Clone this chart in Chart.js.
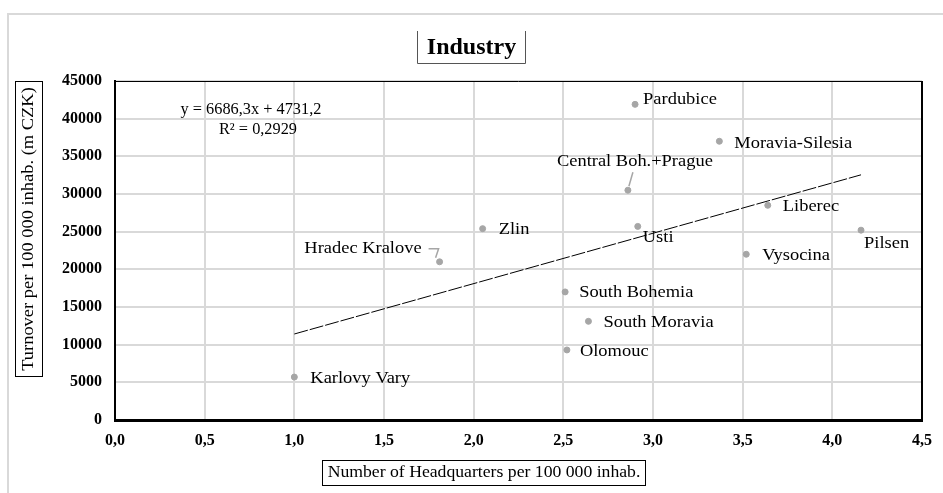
<!DOCTYPE html>
<html>
<head>
<meta charset="utf-8">
<script src="https://cdn.jsdelivr.net/npm/chart.js@4.4.0/dist/chart.umd.min.js"></script>
<style>
  html, body { margin: 0; padding: 0; background: #fff; }
  #wrap { width: 943px; height: 493px; position: relative; }
</style>
</head>
<body>
<div id="wrap"><canvas id="c" width="943" height="493"></canvas></div>
<script>
// ---- Data ----
const regions = ["Karlovy Vary", "Hradec Kralove", "Zlin", "South Bohemia", "South Moravia", "Olomouc",
  "Central Boh.+Prague", "Usti", "Pardubice", "Moravia-Silesia", "Liberec", "Vysocina", "Pilsen"];
const headquarters = [1.00, 1.81, 2.05, 2.51, 2.64, 2.52, 2.86, 2.915, 2.90, 3.37, 3.64, 3.52, 4.16];
const turnover = [5700, 21000, 25400, 17000, 13100, 9300, 30500, 25700, 41900, 37000, 28500, 22000, 25200];
const trendSlope = 6686.3;
const trendIntercept = 4731.2;
const equationText = "y = 6686,3x + 4731,2";
const r2Text = "R² = 0,2929";
const xTicks = [0, 0.5, 1, 1.5, 2, 2.5, 3, 3.5, 4, 4.5];
const yTicks = [0, 5000, 10000, 15000, 20000, 25000, 30000, 35000, 40000, 45000];
const chartTitle = "Industry";
const xTitle = "Number of Headquarters per 100 000 inhab.";
const yTitle = "Turnover per 100 000 inhab. (m CZK)";

// ---- Label layout (offsets in px from point) ----
const labelLayout = {
  "Karlovy Vary": { dx: 16, dy: 1, align: "left" },
  "Hradec Kralove": { dx: -18, dy: -13, align: "right", leader: [[-4, -4], [-1, -13], [-11, -13]] },
  "Zlin": { dx: 16, dy: 1, align: "left" },
  "South Bohemia": { dx: 14, dy: 1, align: "left" },
  "South Moravia": { dx: 15, dy: 1, align: "left" },
  "Olomouc": { dx: 13, dy: 2, align: "left" },
  "Central Boh.+Prague": { dx: 7, dy: -29, align: "center", leader: [[1, -4], [5, -18]] },
  "Usti": { dx: 5, dy: 11, align: "left" },
  "Pardubice": { dx: 8, dy: -5, align: "left" },
  "Moravia-Silesia": { dx: 15, dy: 2, align: "left" },
  "Liberec": { dx: 15, dy: 1, align: "left" },
  "Vysocina": { dx: 16, dy: 1, align: "left" },
  "Pilsen": { dx: 3, dy: 13, align: "left" }
};

const serif = '"Liberation Serif", "DejaVu Serif", serif';
const xMin = Math.min(...headquarters), xMax = Math.max(...headquarters);
const trend = [
  { x: xMin, y: trendSlope * xMin + trendIntercept },
  { x: xMax, y: trendSlope * xMax + trendIntercept }
];

function stretchedText(ctx, text, x, y, align, sx) {
  ctx.save();
  ctx.translate(x, y);
  ctx.scale(sx, 1);
  ctx.textAlign = align;
  ctx.fillText(text, 0, 0);
  ctx.restore();
}

const decor = {
  id: "decor",
  afterDraw(chart) {
    const ctx = chart.ctx;
    const a = chart.chartArea;
    const xs = chart.scales.x, ys = chart.scales.y;
    ctx.save();
    // outer frame
    ctx.strokeStyle = "#d9d9d9"; ctx.lineWidth = 2;
    ctx.beginPath(); ctx.moveTo(8, 493); ctx.lineTo(8, 14); ctx.lineTo(943, 14); ctx.stroke();
    // top/right border of plot
    ctx.strokeStyle = "#000"; ctx.lineWidth = 1;
    ctx.beginPath(); ctx.moveTo(a.left, a.top + 0.5); ctx.lineTo(a.right, a.top + 0.5); ctx.stroke();
    ctx.lineWidth = 2;
    ctx.beginPath(); ctx.moveTo(a.right, a.top); ctx.lineTo(a.right, a.bottom); ctx.stroke();

    ctx.fillStyle = "#000"; ctx.textBaseline = "middle";
    // title box
    ctx.font = "bold 24px " + serif;
    stretchedText(ctx, chartTitle, 471.5, 48, "center", 1.0);
    ctx.strokeStyle = "#555"; ctx.lineWidth = 1;
    ctx.beginPath(); ctx.moveTo(417.5, 31); ctx.lineTo(417.5, 63.5); ctx.lineTo(525.5, 63.5); ctx.lineTo(525.5, 31); ctx.stroke();

    // x title box
    ctx.font = "17px " + serif;
    stretchedText(ctx, xTitle, 484, 473, "center", 1.04);
    ctx.strokeStyle = "#000";
    ctx.strokeRect(322.5, 460.5, 323, 25);
    // y title box
    ctx.save();
    ctx.translate(29, 229); ctx.rotate(-Math.PI / 2);
    stretchedText(ctx, yTitle, 0, 0, "center", 1.085);
    ctx.restore();
    ctx.strokeRect(15.5, 81.5, 27, 295);

    // equation
    ctx.font = "16px " + serif;
    stretchedText(ctx, equationText, 251, 110, "center", 1.02);
    stretchedText(ctx, r2Text, 258, 130, "center", 1.02);

    // labels
    ctx.font = "17px " + serif;
    regions.forEach((name, i) => {
      const L = labelLayout[name];
      const px = xs.getPixelForValue(headquarters[i]);
      const py = ys.getPixelForValue(turnover[i]);
      if (L.leader) {
        ctx.strokeStyle = "#a6a6a6"; ctx.lineWidth = 1.5;
        ctx.beginPath();
        L.leader.forEach((p, k) => { if (k === 0) ctx.moveTo(px + p[0], py + p[1]); else ctx.lineTo(px + p[0], py + p[1]); });
        ctx.stroke();
      }
      ctx.fillStyle = "#000";
      stretchedText(ctx, name, px + L.dx, py + L.dy, L.align, 1.085);
    });
    ctx.restore();
  }
};

new Chart(document.getElementById("c"), {
  data: {
    datasets: [
      {
        type: "scatter",
        data: headquarters.map((x, i) => ({ x, y: turnover[i] })),
        backgroundColor: "#a6a6a6",
        borderColor: "#a6a6a6",
        pointRadius: 3,
        order: 1
      },
      {
        type: "line",
        data: trend,
        borderColor: "#000",
        borderWidth: 1,
        borderDash: [14, 2],
        pointRadius: 0,
        fill: false,
        order: 2
      }
    ]
  },
  options: {
    responsive: false,
    devicePixelRatio: 1,
    animation: false,
    layout: { padding: { top: 81, right: 21, left: 0, bottom: 0 } },
    plugins: { legend: { display: false }, tooltip: { enabled: false }, title: { display: false } },
    scales: {
      x: {
        type: "linear", min: 0, max: 4.5,
        afterBuildTicks(s) { s.ticks = xTicks.map(v => ({ value: v })); },
        afterFit(s) { s.height = 73; },
        ticks: {
          color: "#000", padding: 11, maxRotation: 0,
          font: { family: serif, size: 16, weight: "bold" },
          callback: v => Number(v).toFixed(1).replace(".", ",")
        },
        grid: { color: "#d9d9d9", lineWidth: 2, drawTicks: false },
        border: { color: "#000", width: 3 }
      },
      y: {
        type: "linear", min: 0, max: 45000,
        afterBuildTicks(s) { s.ticks = yTicks.map(v => ({ value: v })); },
        afterFit(s) { s.width = 115; },
        ticks: {
          color: "#000", padding: 13,
          font: { family: serif, size: 16, weight: "bold" },
          callback: v => String(v)
        },
        grid: { color: "#d9d9d9", lineWidth: 2, drawTicks: false },
        border: { color: "#000", width: 2 }
      }
    }
  },
  plugins: [decor]
});
</script>
</body>
</html>
